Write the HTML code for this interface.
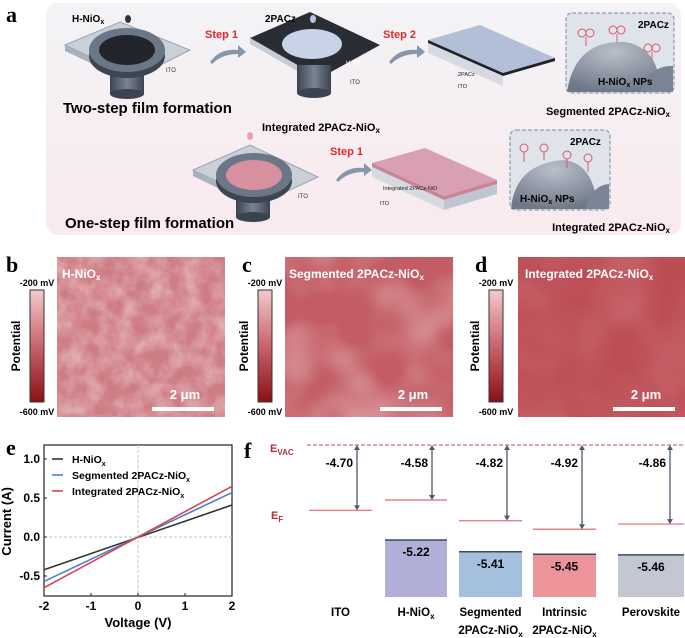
<!DOCTYPE html>
<html><head><meta charset="utf-8"><style>
body{margin:0;width:685px;height:638px;background:#fff;overflow:hidden;font-family:"Liberation Sans",sans-serif}
svg{position:absolute;left:0;top:0}
.pl{font-family:"Liberation Serif",serif;font-weight:bold;font-size:22px}
.b{font-weight:bold}
</style></head><body>
<svg width="685" height="638" viewBox="0 0 685 638">
<defs>
<linearGradient id="bgA" x1="0" y1="0" x2="0" y2="1"><stop offset="0" stop-color="#f3f3f6"/><stop offset="1" stop-color="#f9eaee"/></linearGradient>
<linearGradient id="cb" x1="0" y1="0" x2="0" y2="1"><stop offset="0" stop-color="#f3c9cc"/><stop offset="0.5" stop-color="#c9646c"/><stop offset="1" stop-color="#8a1015"/></linearGradient>
<linearGradient id="cyl" x1="0" y1="0" x2="1" y2="0"><stop offset="0" stop-color="#3c4350"/><stop offset="0.5" stop-color="#7a8493"/><stop offset="1" stop-color="#3c4350"/></linearGradient>
<filter id="tb" x="0" y="0" width="1" height="1"><feTurbulence type="fractalNoise" baseFrequency="0.06" numOctaves="4" seed="3"/><feColorMatrix values="0 0 0 0 1 0 0 0 0 1 0 0 0 0 1 0 0 0 0.7 -0.22"/></filter>
<filter id="tc" x="0" y="0" width="1" height="1"><feTurbulence type="fractalNoise" baseFrequency="0.018" numOctaves="2" seed="7"/><feColorMatrix values="0 0 0 0 1 0 0 0 0 1 0 0 0 0 1 0 0 0 0.8 -0.33"/></filter>
<filter id="td" x="0" y="0" width="1" height="1"><feTurbulence type="fractalNoise" baseFrequency="0.02" numOctaves="2" seed="2"/><feColorMatrix values="0 0 0 0 1 0 0 0 0 1 0 0 0 0 1 0 0 0 0.2 -0.05"/></filter>
<radialGradient id="dome" cx="0.5" cy="0.2" r="0.8"><stop offset="0" stop-color="#b9c0cb"/><stop offset="1" stop-color="#6f7887"/></radialGradient>
</defs>

<g>
<text class="pl" x="6" y="22">a</text>
<rect x="46" y="3" width="635" height="232" rx="12" fill="url(#bgA)"/>
<g>
<polygon points="65,45 120,22 190,50 135,78" fill="#c9d0da" stroke="#9aa3b0"/>
<polygon points="65,45 135,78 135,84 65,51" fill="#a9b1bd"/>
<rect x="110" y="60" width="34" height="34" fill="url(#cyl)"/>
<ellipse cx="127" cy="94" rx="17" ry="5" fill="#3c4350"/>
<ellipse cx="127" cy="56" rx="38" ry="22" fill="#3d4552"/>
<ellipse cx="127" cy="50" rx="38" ry="22" fill="#6b7686"/>
<ellipse cx="127" cy="50" rx="28" ry="15" fill="#22262c"/>
<text x="166" y="72" font-size="6" fill="#333">ITO</text>
<text x="72" y="22" font-size="10" class="b">H-NiO<tspan font-size="7" dy="2">x</tspan></text>
<ellipse cx="128" cy="19" rx="3" ry="4" fill="#333"/>
</g>
<text x="205" y="38" font-size="11" class="b" fill="#e0292e">Step 1</text>
<path d="M210,62 Q220,48 238,50 L238,45 L246,52 L238,58 L238,54 Q222,54 212,64Z" fill="#8797aa"/>
<g>
<polygon points="250,38 310,12 380,45 320,78" fill="#2a2d33"/>
<polygon points="250,38 320,78 320,84 250,44" fill="#c5ccd6"/>
<rect x="297" y="65" width="34" height="28" fill="url(#cyl)"/>
<ellipse cx="314" cy="93" rx="17" ry="5" fill="#3c4350"/>
<ellipse cx="312" cy="44" rx="30" ry="15" fill="#c7d2e6"/>
<text x="346" y="65" font-size="6" fill="#fff">H-NiO</text><text x="350" y="84" font-size="6" fill="#333">ITO</text>
<text x="265" y="22" font-size="10" class="b">2PACz</text>
<ellipse cx="313" cy="19" rx="3" ry="4" fill="#b8c6e6"/>
</g>
<text x="383" y="38" font-size="11" class="b" fill="#e0292e">Step 2</text>
<path d="M389,62 Q399,48 417,50 L417,45 L425,52 L417,58 L417,54 Q401,54 391,64Z" fill="#8797aa"/>
<g>
<polygon points="428,40 480,25 555,58 503,73" fill="#b3bfd6"/>
<polygon points="428,40 503,73 503,76 428,43" fill="#1f2227"/>
<polygon points="503,73 555,58 555,61 503,76" fill="#1f2227"/>
<polygon points="428,43 503,76 503,86 428,53" fill="#d5dae2"/>
<text x="458" y="76" font-size="5.5" fill="#222">2PACz</text><text x="458" y="82" font-size="5.5" fill="#fff">H-NiO</text><text x="458" y="88" font-size="5.5" fill="#222">ITO</text>
</g>
<g>
<rect x="566" y="13" width="108" height="80" rx="6" fill="#dfe3ea" stroke="#7d8ba0" stroke-dasharray="4,2"/>
<path d="M567,92 Q575,40 625,42 Q660,48 660,92Z" fill="url(#dome)"/>
<path d="M640,92 Q650,65 673,66 L673,92Z" fill="#7b8494"/>
<g stroke="#d9586a" fill="none" stroke-width="1"><circle cx="582" cy="33" r="4"/><circle cx="590" cy="33" r="4"/><circle cx="613" cy="30" r="4"/><circle cx="621" cy="30" r="4"/><circle cx="648" cy="48" r="4"/><circle cx="656" cy="48" r="4"/><path d="M586,37 V46 M617,34 V42 M652,52 V60"/></g>
<text x="638" y="28" font-size="10" class="b">2PACz</text>
<text x="598" y="85" font-size="10" class="b">H-NiO<tspan font-size="7" dy="2">x</tspan><tspan dy="-2"> NPs</tspan></text>
</g>
<text x="63" y="113" font-size="15" class="b">Two-step film formation</text>
<text x="670" y="115" font-size="11" class="b" text-anchor="end">Segmented 2PACz-NiO<tspan font-size="8" dy="2">x</tspan></text>
<text x="262" y="131" font-size="11" class="b">Integrated 2PACz-NiO<tspan font-size="8" dy="2">x</tspan></text>
<ellipse cx="250" cy="136" rx="3" ry="4" fill="#e8a3ae"/>
<g>
<polygon points="193,170 250,145 318,177 262,203" fill="#c9d0da" stroke="#9aa3b0"/>
<polygon points="193,170 262,203 262,209 193,176" fill="#a9b1bd"/>
<rect x="236" y="185" width="34" height="32" fill="url(#cyl)"/>
<ellipse cx="253" cy="217" rx="17" ry="5" fill="#3c4350"/>
<ellipse cx="254" cy="181" rx="38" ry="22" fill="#3d4552"/>
<ellipse cx="254" cy="175" rx="38" ry="22" fill="#6b7686"/>
<ellipse cx="254" cy="175" rx="28" ry="15" fill="#d8909e"/>
<text x="298" y="198" font-size="6" fill="#333">ITO</text>
</g>
<text x="330" y="155" font-size="11" class="b" fill="#e0292e">Step 1</text>
<path d="M336,180 Q346,166 364,168 L364,163 L372,170 L364,176 L364,172 Q348,172 338,182Z" fill="#8797aa"/>
<g>
<polygon points="372,163 425,148 497,180 444,196" fill="#d8a0b0"/>
<polygon points="372,163 444,196 444,200 372,167" fill="#c98598"/>
<polygon points="372,167 444,200 444,210 372,177" fill="#d5dae2"/>
<polygon points="444,200 497,184 497,194 444,210" fill="#c0c6d0"/>
<polygon points="444,196 497,180 497,184 444,200" fill="#c98598"/>
<text x="383" y="190" font-size="5.5" fill="#222">Integrated 2PACz-NiO</text><text x="380" y="205" font-size="5.5" fill="#222">ITO</text>
</g>
<g>
<rect x="510" y="130" width="100" height="80" rx="6" fill="#dfe3ea" stroke="#7d8ba0" stroke-dasharray="4,2"/>
<path d="M511,209 Q515,163 565,160 Q595,165 597,209Z" fill="url(#dome)"/>
<path d="M585,209 Q592,185 609,184 L609,209Z" fill="#7b8494"/>
<g stroke="#d9586a" fill="none"><circle cx="524" cy="148" r="4"/><circle cx="544" cy="148" r="4"/><circle cx="567" cy="155" r="4"/><circle cx="588" cy="158" r="4"/><path d="M524,152V162 M544,152V160 M567,159V168 M588,162V172"/></g>
<text x="570" y="145" font-size="10" class="b">2PACz</text>
<text x="520" y="202" font-size="10" class="b">H-NiO<tspan font-size="7" dy="2">x</tspan><tspan dy="-2"> NPs</tspan></text>
</g>
<text x="65" y="228" font-size="15" class="b">One-step film formation</text>
<text x="670" y="231" font-size="11" class="b" text-anchor="end">Integrated 2PACz-NiO<tspan font-size="8" dy="2">x</tspan></text>
</g>

<g>
<text class="pl" x="6" y="272">b</text>
<rect x="57" y="257" width="168" height="160" fill="#cf7d84"/>
<rect x="57" y="257" width="168" height="160" filter="url(#tb)"/>
<text x="62" y="278" font-size="12" class="b" fill="#fff">H-NiO<tspan font-size="8" dy="2">x</tspan></text>
<text x="185" y="399" font-size="13" class="b" fill="#fff" text-anchor="middle">2 μm</text>
<rect x="152" y="407" width="62" height="4" fill="#fff"/>
<rect x="30" y="290" width="14" height="112" fill="url(#cb)" stroke="#333"/>
<text x="37" y="286" font-size="9" class="b" text-anchor="middle">-200 mV</text>
<text x="37" y="415" font-size="9" class="b" text-anchor="middle">-600 mV</text>
<text transform="translate(20,346) rotate(-90)" font-size="12" class="b" text-anchor="middle">Potential</text>
</g>
<g>
<text class="pl" x="242" y="272">c</text>
<rect x="285" y="257" width="168" height="160" fill="#c35c64"/>
<rect x="285" y="257" width="168" height="160" filter="url(#tc)"/>
<text x="289" y="278" font-size="12" class="b" fill="#fff">Segmented 2PACz-NiO<tspan font-size="8" dy="2">x</tspan></text>
<text x="413" y="399" font-size="13" class="b" fill="#fff" text-anchor="middle">2 μm</text>
<rect x="380" y="407" width="62" height="4" fill="#fff"/>
<rect x="258" y="290" width="14" height="112" fill="url(#cb)" stroke="#333"/>
<text x="265" y="286" font-size="9" class="b" text-anchor="middle">-200 mV</text>
<text x="265" y="415" font-size="9" class="b" text-anchor="middle">-600 mV</text>
<text transform="translate(248,346) rotate(-90)" font-size="12" class="b" text-anchor="middle">Potential</text>
</g>
<g>
<text class="pl" x="475" y="272">d</text>
<rect x="518" y="257" width="167" height="160" fill="#bd4d55"/>
<rect x="518" y="257" width="167" height="160" filter="url(#td)"/>
<text x="525" y="278" font-size="12" class="b" fill="#fff">Integrated 2PACz-NiO<tspan font-size="8" dy="2">x</tspan></text>
<text x="646" y="399" font-size="13" class="b" fill="#fff" text-anchor="middle">2 μm</text>
<rect x="613" y="407" width="62" height="4" fill="#fff"/>
<rect x="489" y="290" width="14" height="112" fill="url(#cb)" stroke="#333"/>
<text x="496" y="286" font-size="9" class="b" text-anchor="middle">-200 mV</text>
<text x="496" y="415" font-size="9" class="b" text-anchor="middle">-600 mV</text>
<text transform="translate(479,346) rotate(-90)" font-size="12" class="b" text-anchor="middle">Potential</text>
</g>

<g id="pe">
<text class="pl" x="6" y="455">e</text>
</g>
<g id="pf">
<text class="pl" x="244" y="458">f</text>
</g>
</svg>
<script>
const eVolt=[-2,2];
const eSeries=['H-NiOx','Segmented 2PACz-NiOx','Integrated 2PACz-NiOx'];
const eColors=['#333333','#4a7fd0','#d9434e'];
const eCurrentBlack=[-0.42,0.41];
const eCurrentBlue=[-0.57,0.57];
const eCurrentRed=[-0.65,0.65];
const eXTicks=[-2,-1,0,1,2];
const eYTicks=[-0.5,0.0,0.5,1.0];
const eYTickLabels=['-0.5','0.0','0.5','1.0'];
const fCats=['ITO','H-NiOx','Segmented 2PACz-NiOx','Intrinsic 2PACz-NiOx','Perovskite'];
const fFermi=[-4.70,-4.58,-4.82,-4.92,-4.86];
const fVB=[null,-5.22,-5.41,-5.45,-5.46];
const fVBColors=[null,'#b1afd7','#a4c0dc','#ec949a','#c3c7d4'];

const NS='http://www.w3.org/2000/svg';
function mk(tag,attrs,parent,txt){const e=document.createElementNS(NS,tag);for(const k in attrs)e.setAttribute(k,attrs[k]);if(txt!==undefined)e.textContent=txt;parent.appendChild(e);return e;}
const pe=document.getElementById('pe');
const xL=44,xR=232,yT=445,yB=596;
const xS=v=>xL+(v+2)/4*(xR-xL);
const yS=v=>537-v*78;
let el;
el=mk('rect',{x:xL,y:yT,width:xR-xL,height:yB-yT,fill:'none',stroke:'#222','stroke-width':1.2},pe);


el=mk('line',{x1:xS(0),x2:xS(0),y1:yT,y2:yB,stroke:'#9fd8b0','stroke-dasharray':'3,2'},pe);


el=mk('line',{x1:xL,x2:xR,y1:yS(0),y2:yS(0),stroke:'#9fd8b0','stroke-dasharray':'3,2'},pe);


eXTicks.forEach(t=>{
 el=mk('text',{x:xS(t),y:yB+14,'font-size':12,'font-weight':'bold','text-anchor':'middle'},pe,String(t));
 
 
 mk('line',{x1:xS(t),x2:xS(t),y1:yB,y2:yB-3,stroke:'#222'},pe);
});
eYTicks.forEach((t,i)=>{
 el=mk('text',{x:xL-4,y:yS(t)+4,'font-size':12,'font-weight':'bold','text-anchor':'end'},pe,eYTickLabels[i]);
 
 
 mk('line',{x1:xL,x2:xL+3,y1:yS(t),y2:yS(t),stroke:'#222'},pe);
});
el=mk('text',{x:(xL+xR)/2,y:627,'font-size':13,'font-weight':'bold','text-anchor':'middle'},pe,'Voltage (V)');


el=mk('text',{transform:'translate(11,'+yS(0.2)+') rotate(-90)','font-size':13,'font-weight':'bold','text-anchor':'middle'},pe,'Current (A)');


[eCurrentBlack,eCurrentBlue,eCurrentRed].forEach((s,i)=>{
 el=mk('polyline',{points:s.map((v,j)=>xS(eVolt[j])+','+yS(v)).join(' '),fill:'none',stroke:eColors[i],'stroke-width':1.6},pe);
 
 
 const ly=459+i*16;
 mk('line',{x1:52,x2:63,y1:ly,y2:ly,stroke:eColors[i],'stroke-width':1.6},pe);
 const t=mk('text',{x:72,y:ly+4,'font-size':10.5,'font-weight':'bold'},pe);
 
 
 t.appendChild(document.createTextNode(eSeries[i].slice(0,-1)));
 mk('tspan',{'font-size':7,dy:3},t,'x');
});
const pf=document.getElementById('pf');
const colX=[309,385,459,533,618];
const colW=[63,62,63,63,66];
const arrowX=[357,432,507,582,670];
const yVac=445;
const yF=v=>500+(-4.58-v)*86;
const yV=v=>540+(-5.22-v)*62;
el=mk('line',{x1:307,x2:685,y1:yVac,y2:yVac,stroke:'#e06c78','stroke-width':1.2,'stroke-dasharray':'4,2'},pf);


const ev=mk('text',{x:270,y:452,'font-size':11,'font-weight':'bold',fill:'#b0313f'},pf,'E');
mk('tspan',{'font-size':8,dy:3},ev,'VAC');
const ef=mk('text',{x:271,y:519,'font-size':11,'font-weight':'bold',fill:'#b0313f'},pf,'E');
mk('tspan',{'font-size':8,dy:3},ef,'F');
fCats.forEach((c,i)=>{
 const y=yF(fFermi[i]);
 el=mk('line',{x1:colX[i],x2:colX[i]+colW[i],y1:y,y2:y,stroke:'#e8808a','stroke-width':1.4},pf);
 
 
 el=mk('line',{x1:arrowX[i],x2:arrowX[i],y1:yVac+4,y2:y-4,stroke:'#4c5a6e','stroke-width':1.3},pf);
 
 
 mk('path',{d:`M${arrowX[i]-3},${yVac+5}L${arrowX[i]},${yVac}L${arrowX[i]+3},${yVac+5}Z M${arrowX[i]-3},${y-5}L${arrowX[i]},${y}L${arrowX[i]+3},${y-5}Z`,fill:'#4c5a6e'},pf);
 el=mk('text',{x:arrowX[i]-4,y:467,'font-size':12,'font-weight':'bold','text-anchor':'end'},pf,fFermi[i].toFixed(2));
 
 
 if(fVB[i]!==null){
  const vy=yV(fVB[i]);
  el=mk('rect',{x:colX[i],y:vy,width:colW[i],height:597-vy,fill:fVBColors[i]},pf);
  
  
  mk('line',{x1:colX[i],x2:colX[i]+colW[i],y1:vy,y2:vy,stroke:'#3e4a5c','stroke-width':1.5},pf);
  el=mk('text',{x:colX[i]+colW[i]/2,y:vy+16,'font-size':12,'font-weight':'bold','text-anchor':'middle'},pf,fVB[i].toFixed(2));
  
  
 }
 const cx=colX[i]+colW[i]/2;
 const parts=c.match(/^(Segmented|Intrinsic) (.*)$/);
 const lines=parts?[parts[1],parts[2]]:[c];
 lines.forEach((ln,k)=>{
  const t=mk('text',{x:cx,y:616+k*18,'font-size':11.5,'font-weight':'bold','text-anchor':'middle'},pf);
  
  
  if(ln.endsWith('NiOx')){t.appendChild(document.createTextNode(ln.slice(0,-1)));mk('tspan',{'font-size':8,dy:3},t,'x');}
  else t.textContent=ln;
 });
});
</script>
</body></html>
